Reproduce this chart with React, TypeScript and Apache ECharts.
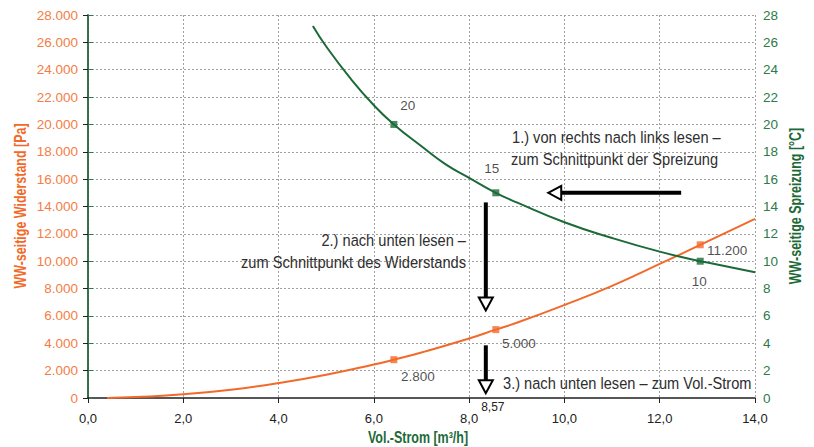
import React, { useEffect, useRef } from "react";
import * as echarts from "echarts";

// Volume flow [m³/h] vs. pressure loss [Pa]
const flowWiderstand = [0.4, 1, 2, 3, 4, 5, 6, 6.42, 7, 8, 8.56, 9, 10, 11, 12, 12.85, 14];
const widerstand = [0, 70, 270, 610, 1090, 1700, 2450, 2800, 3330, 4350, 5000, 5500, 6800, 8200, 9800, 11200, 13100];

// Volume flow [m³/h] vs. temperature spread [°C]
const flowSpreizung = [4.72, 5, 5.5, 6, 6.42, 7, 7.5, 8, 8.56, 9, 10, 11, 12, 12.85, 13, 14];
const spreizung = [27.2, 25.7, 23.4, 21.4, 20, 18.4, 17.1, 16.1, 15, 14.3, 12.85, 11.7, 10.7, 10, 9.9, 9.2];

// Marked points
const markFlow = [6.42, 8.56, 12.85];
const markWiderstand = [2800, 5000, 11200];
const markWiderstandLabels = ["2.800", "5.000", "11.200"];
const markSpreizung = [20, 15, 10];
const markSpreizungLabels = ["20", "15", "10"];

const xName = "Vol.-Strom [m³/h]";
const yLeftName = "WW-seitige Widerstand [Pa]";
const yRightName = "WW-seitige Spreizung [°C]";
const readFlowLabel = "8,57";

const ORANGE = "#f26a2a";
const ORANGE_LIGHT = "#f47d45";
const GREEN = "#1c6a38";
const GREEN_AXIS = "#2e7a4a";
const SANS = "'Liberation Sans', Arial, sans-serif";
const COND = 0.86;

const fmtThousands = (v: number) => {
  if (v === 0) return "0";
  const s = Math.round(v).toString();
  return s.replace(/\B(?=(\d{3})+(?!\d))/g, ".");
};

export default function App() {
  const ref = useRef<HTMLDivElement>(null);

  useEffect(() => {
    document.body.style.margin = "0";
    const chart = echarts.init(ref.current!, null, { renderer: "svg" });

    const wLabelOffsets = [[24, 17], [23, 14], [27, 6]];
    const sLabelOffsets = [[14, -19], [-4, -24], [-1, 20]];

    chart.setOption({
      animation: false,
      grid: { left: 88, right: 59, top: 15, bottom: 49 },
      xAxis: [
        {
          type: "value",
          min: 0,
          max: 14,
          interval: 2,
          axisLine: { onZero: false, lineStyle: { color: "#222", width: 1.5 } },
          axisTick: { show: true, length: 5, lineStyle: { color: "#222" } },
          axisLabel: {
            color: "#222",
            fontFamily: SANS,
            fontSize: 13,
            margin: 14,
            formatter: (v: number) => v.toFixed(1).replace(".", ","),
          },
          splitLine: { show: true, lineStyle: { color: "#a0a0a0", type: [2, 2] } },
        },
        {
          type: "value",
          position: "top",
          min: 0,
          max: 14,
          interval: 2,
          axisLine: { show: true, lineStyle: { color: "#555", width: 1 } },
          axisTick: { show: false },
          axisLabel: { show: false },
          splitLine: { show: false },
        },
      ],
      yAxis: [
        {
          type: "value",
          min: 0,
          max: 28000,
          interval: 2000,
          axisLine: { show: true, lineStyle: { color: "#222", width: 1.5 } },
          axisTick: { show: true, length: 5, lineStyle: { color: "#222" } },
          axisLabel: { color: ORANGE_LIGHT, fontFamily: SANS, fontSize: 13.5, margin: 10, formatter: fmtThousands },
          splitLine: { show: true, lineStyle: { color: "#a0a0a0", type: [2, 2] } },
        },
        {
          type: "value",
          position: "right",
          min: 0,
          max: 28,
          interval: 2,
          axisLine: { show: true, lineStyle: { color: GREEN_AXIS, width: 1.5 } },
          axisTick: { show: true, length: 5, lineStyle: { color: GREEN_AXIS } },
          axisLabel: { color: GREEN_AXIS, fontFamily: SANS, fontSize: 13.5, margin: 8 },
          splitLine: { show: false },
        },
      ],
      series: [
        {
          type: "line",
          name: "Widerstand",
          yAxisIndex: 0,
          smooth: true,
          showSymbol: false,
          symbol: "none",
          lineStyle: { color: ORANGE, width: 2 },
          data: flowWiderstand.map((x, i) => [x, widerstand[i]]),
          z: 3,
        },
        {
          type: "line",
          name: "Spreizung",
          yAxisIndex: 1,
          smooth: true,
          showSymbol: false,
          symbol: "none",
          lineStyle: { color: GREEN, width: 2 },
          data: flowSpreizung.map((x, i) => [x, spreizung[i]]),
          z: 3,
        },
        {
          type: "scatter",
          yAxisIndex: 0,
          symbol: "rect",
          symbolSize: 7,
          itemStyle: { color: ORANGE },
          z: 4,
          data: markFlow.map((x, i) => ({
            value: [x, markWiderstand[i]],
            label: {
              show: true,
              position: "inside",
              offset: wLabelOffsets[i],
              formatter: markWiderstandLabels[i],
              color: "#1e1e1e",
              fontFamily: SANS,
              fontSize: 13.5,
            },
          })),
        },
        {
          type: "scatter",
          yAxisIndex: 1,
          symbol: "rect",
          symbolSize: 7,
          itemStyle: { color: GREEN },
          z: 4,
          data: markFlow.map((x, i) => ({
            value: [x, markSpreizung[i]],
            label: {
              show: true,
              position: "inside",
              offset: sLabelOffsets[i],
              formatter: markSpreizungLabels[i],
              color: "#1e1e1e",
              fontFamily: SANS,
              fontSize: 13.5,
            },
          })),
        },
      ],
    });

    // Annotation arrows, positioned through the axes
    const pW = (x: number, y: number) => chart.convertToPixel({ seriesIndex: 0 }, [x, y]) as number[];
    const pS = (x: number, y: number) => chart.convertToPixel({ seriesIndex: 1 }, [x, y]) as number[];

    const arrowH = (from: number[], to: number[]) => {
      const headLen = 13;
      const half = 7;
      return [
        { type: "line", shape: { x1: from[0], y1: from[1], x2: to[0] + headLen, y2: to[1] }, style: { stroke: "#000", lineWidth: 4 }, z: 10 },
        {
          type: "polygon",
          shape: { points: [[to[0], to[1]], [to[0] + headLen, to[1] - half], [to[0] + headLen, to[1] + half]] },
          style: { fill: "#fff", stroke: "#000", lineWidth: 2 },
          z: 10,
        },
      ];
    };
    const arrowV = (from: number[], to: number[]) => {
      const headLen = 13;
      const half = 7;
      return [
        { type: "line", shape: { x1: from[0], y1: from[1], x2: to[0], y2: to[1] - headLen }, style: { stroke: "#000", lineWidth: 4 }, z: 10 },
        {
          type: "polygon",
          shape: { points: [[to[0], to[1]], [to[0] - half, to[1] - headLen], [to[0] + half, to[1] - headLen]] },
          style: { fill: "#fff", stroke: "#000", lineWidth: 2 },
          z: 10,
        },
      ];
    };

    const a1 = arrowH(pS(12.45, 15), pS(9.66, 15));
    const a2 = arrowV(pW(8.35, 14300), pW(8.35, 6400));
    const a3 = arrowV(pW(8.35, 3850), pW(8.35, 350));
    const base = pW(8.35, 0);

    const note = (text: string, x: number, y: number, align: string) => ({
      type: "text",
      x,
      y,
      scaleX: COND,
      z: 10,
      style: {
        text,
        fill: "#2e2e2e",
        fontFamily: SANS,
        fontSize: 17,
        align,
        verticalAlign: "middle",
      },
    });

    const axisName = (text: string, x: number, y: number, color: string, rotation: number) => ({
      type: "text",
      x,
      y,
      rotation,
      scaleX: 0.78,
      z: 10,
      style: {
        text,
        fill: color,
        fontFamily: SANS,
        fontWeight: "bold",
        fontSize: 16,
        align: "center",
        verticalAlign: "middle",
      },
    });

    chart.setOption({
      graphic: [
        ...a1,
        ...a2,
        ...a3,
        {
          type: "text",
          x: base[0] + 7,
          y: base[1] + 9,
          style: { text: readFlowLabel, fill: "#222", fontFamily: SANS, fontSize: 12, align: "center", verticalAlign: "middle" },
          z: 10,
        },
        note("1.) von rechts nach links lesen –", 512, 137, "left"),
        note("zum Schnittpunkt der Spreizung", 511, 159, "left"),
        note("2.) nach unten lesen –", 466, 240, "right"),
        note("zum Schnittpunkt des Widerstands", 466, 262, "right"),
        note("3.) nach unten lesen – zum Vol.-Strom", 503, 383, "left"),
        axisName(xName, 418, 437, GREEN, 0),
        axisName(yLeftName, 20, 206, ORANGE, Math.PI / 2),
        axisName(yRightName, 795, 206, GREEN, Math.PI / 2),
      ],
    });

    return () => chart.dispose();
  }, []);

  return <div ref={ref} style={{ width: 814, height: 447 }} />;
}
